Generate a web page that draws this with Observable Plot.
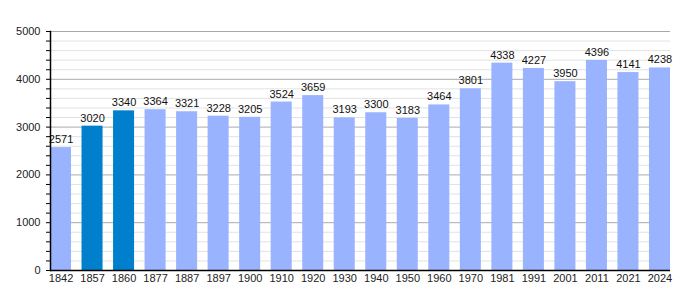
<!DOCTYPE html>
<html>
<head>
<meta charset="utf-8">
<script src="https://cdn.jsdelivr.net/npm/d3@7"></script>
<script src="https://cdn.jsdelivr.net/npm/@observablehq/plot@0.6"></script>
<style>
  html, body { margin: 0; padding: 0; background: #fff; }
  #chart svg { display: block; }
</style>
</head>
<body>
<div id="chart"></div>
<script>
const years = ["1842","1857","1860","1877","1887","1897","1900","1910","1920","1930","1940","1950","1960","1970","1981","1991","2001","2011","2021","2024"];
const population = [2571,3020,3340,3364,3321,3228,3205,3524,3659,3193,3300,3183,3464,3801,4338,4227,3950,4396,4141,4238];
const highlighted = ["1857","1860"];
const majorTicks = [0,1000,2000,3000,4000,5000];
const minorTicks = d3.range(0, 5001, 200).filter(v => v % 1000 !== 0);

const data = years.map((y, i) => ({year: y, value: population[i], hi: highlighted.includes(y)}));

const chart = Plot.plot({
  width: 700,
  height: 300,
  marginLeft: 50,
  marginRight: 30,
  marginTop: 31,
  marginBottom: 30,
  style: {fontFamily: "'Liberation Sans', Arial, sans-serif", fontSize: "11px", color: "#222", background: "#fff"},
  x: {domain: years, paddingInner: 0.333, paddingOuter: 0, round: false, label: null},
  y: {domain: [0, 5000], label: null},
  marks: [
    Plot.ruleY(minorTicks, {stroke: "#e2e2e2", strokeWidth: 1}),
    Plot.ruleY(majorTicks.filter(v => v > 0), {stroke: "#aaaaaa", strokeWidth: 1}),
    Plot.barY(data, {x: "year", y: "value", fill: d => d.hi ? "#0080cc" : "#99b3ff"}),
    Plot.text(data, {x: "year", y: "value", text: d => String(d.value), dy: -8, fill: "#111", fontSize: 11}),
    Plot.axisY({ticks: d3.range(0, 5001, 200), tickSize: 4, tickPadding: 6, stroke: "#000", tickFormat: v => v % 1000 === 0 ? String(v) : "", label: null, fontSize: 11}),
    Plot.axisX({tickSize: 0, tickPadding: 4, label: null, fontSize: 11}),
    Plot.ruleY([0], {stroke: "#000", strokeWidth: 1.5}),
    Plot.frame({anchor: "left", stroke: "#000", strokeWidth: 1.5})
  ]
});
document.getElementById("chart").appendChild(chart);
</script>
</body>
</html>
